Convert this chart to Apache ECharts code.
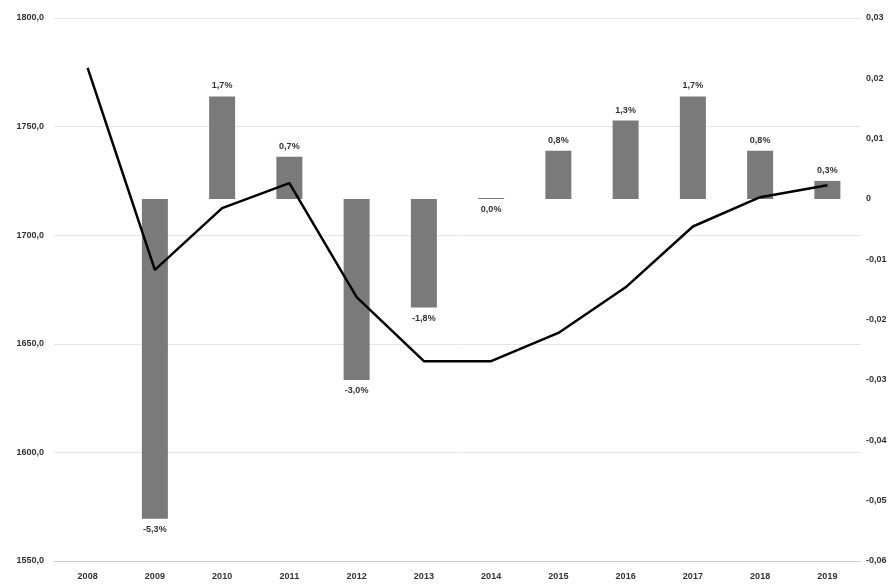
<!DOCTYPE html>
<html><head><meta charset="utf-8">
<script src="https://cdn.jsdelivr.net/npm/echarts@6/dist/echarts.min.js"></script>
<style>html,body{margin:0;padding:0;background:#fff}#c{width:893px;height:585px}</style>
</head><body><div id="c"></div>
<script>
const years = ['2008','2009','2010','2011','2012','2013','2014','2015','2016','2017','2018','2019'];
const lineValues = [1777, 1684, 1712.5, 1724, 1671.5, 1642, 1642, 1655, 1676, 1704, 1717.5, 1723];
const changeValues = [null, -0.053, 0.017, 0.007, -0.030, -0.018, 0.000, 0.008, 0.013, 0.017, 0.008, 0.003];
const leftTicks = {min: 1550, max: 1800, interval: 50};
const rightTicks = {min: -0.06, max: 0.03, interval: 0.01};

const font = 'Liberation Sans';
const chart = echarts.init(document.getElementById('c'));
const barData = changeValues.map((v, i) => {
  if (v === null) return null;
  return {value: v, label: {position: (v <= 0 ? 'bottom' : 'top')}};
});
chart.setOption({
  animation: false,
  grid: {left: 54, right: 32, top: 18, bottom: 24},
  xAxis: {
    type: 'category', data: years,
    axisLine: {show: true, onZero: false, lineStyle: {color: '#d0d0d0'}},
    axisTick: {show: false},
    axisLabel: {color: '#333', fontFamily: font, fontWeight: 'bold', fontSize: 9, margin: 11}
  },
  yAxis: [{
    type: 'value', min: leftTicks.min, max: leftTicks.max, interval: leftTicks.interval,
    position: 'left',
    axisLine: {show: false}, axisTick: {show: false},
    splitLine: {lineStyle: {color: '#e6e6e6'}},
    axisLabel: {color: '#333', fontFamily: font, fontWeight: 'bold', fontSize: 9, margin: 10,
      formatter: v => v.toFixed(1).replace('.', ',')}
  }, {
    type: 'value', min: rightTicks.min, max: rightTicks.max, interval: rightTicks.interval,
    position: 'right',
    axisLine: {show: false}, axisTick: {show: false},
    splitLine: {show: false},
    axisLabel: {color: '#333', fontFamily: font, fontWeight: 'bold', fontSize: 9, margin: 5,
      formatter: v => { const r = Math.round(v * 100); return r === 0 ? '0' : (r / 100).toFixed(2).replace('.', ','); }}
  }],
  series: [{
    type: 'bar', yAxisIndex: 1, data: barData, barWidth: 26, barMinHeight: 1,
    itemStyle: {color: '#7a7a7a'},
    label: {show: true, color: '#333', fontFamily: font, fontWeight: 'bold', fontSize: 9, distance: 6,
      formatter: p => (Math.round(p.value * 1000) / 10).toFixed(1).replace('.', ',') + '%'}
  }, {
    type: 'line', yAxisIndex: 0, data: lineValues,
    symbol: 'none', lineStyle: {color: '#000', width: 2.5}, z: 5
  }]
});
</script></body></html>
